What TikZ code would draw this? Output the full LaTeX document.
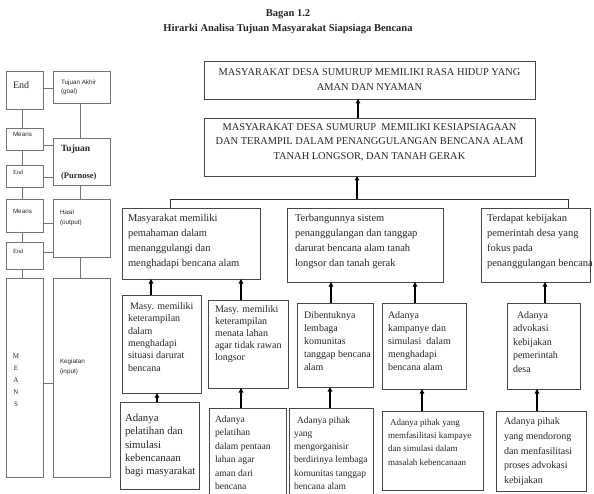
\documentclass[tikz,border=0pt]{standalone}
\usepackage{fontspec}
\setmainfont{Liberation Serif}
\newfontfamily\sansf{Liberation Sans}
\usetikzlibrary{arrows.meta}
\newcommand\fsz[2]{\fontsize{#1}{#2}\selectfont}
% \mkbox[style]{x1}{y1}{x2}{y2}{name}
\newcommand\mkbox[6][]{\node[boxst,#1,minimum width={(#4-#2)*1pt},minimum height={(#5-#3)*1pt}] (#6) at ({(#2+#4)/2},{(#3+#5)/2}) {};}
\tikzset{
  boxst/.style={draw=black!72, line width=0.9pt, inner sep=0pt, outer sep=0pt},
  lbox/.style={draw=black!55, line width=0.8pt},
  txt/.style={anchor=base west, inner sep=0pt, outer sep=0pt, align=left, text=black!85},
  ctxt/.style={anchor=base, inner sep=0pt, outer sep=0pt, align=center, text=black!85},
  conn/.style={draw=black!55, line width=0.8pt},
  bus/.style={draw=black!80, line width=0.9pt},
  arr/.style={draw=black, line width=1.5pt, -{Triangle[length=4.5pt,width=4.5pt]}},
}
\begin{document}
\begin{tikzpicture}[x=1pt,y=-1pt]
\useasboundingbox (0,0) rectangle (594,494);

% title
\node[ctxt, font=\bfseries\fsz{10.5}{12}] (title1) at (288,16.5) {Bagan 1.2};
\node[ctxt, font=\bfseries\fsz{10.5}{12}] (title2) at (288,31.5) {Hirarki Analisa Tujuan Masyarakat Siapsiaga Bencana};

% ---------- left column ----------
\mkbox[lbox]{6}{71}{43}{109}{End1}
\mkbox[lbox]{53}{71}{110}{103}{TA}
\mkbox[lbox]{6}{128}{43}{150}{Means1}
\mkbox[lbox]{53}{138}{110}{185}{Tuj}
\mkbox[lbox]{6}{165}{43}{187}{End2}
\mkbox[lbox]{6}{199}{43}{232}{Means2}
\mkbox[lbox]{53}{199}{110}{257}{Hasil}
\mkbox[lbox]{6}{242}{43}{269}{End3}
\mkbox[lbox]{6}{278}{43}{477}{MEANS}
\mkbox[lbox]{53}{278}{110}{477}{Keg}

% (multi-line nodes: base = baseline of the LAST line)
\node[txt, font=\fsz{10}{12}] (End1t) at (13,89) {End};
\node[txt, font=\sansf\fsz{6.3}{9}] (TAt) at (61,94) {Tujuan Akhir\\(goal)};
\node[txt, font=\sansf\fsz{6.3}{9}] (Means1t) at (13,137) {Means};
\node[txt, font=\bfseries\fsz{9.5}{11}] (Tujt) at (61,152) {Tujuan};
\node[txt, font=\bfseries\fsz{8.5}{10}] (Purt) at (61,179) {(Purnose)};
\node[txt, font=\fsz{6.3}{8}] (End2t) at (13,175) {End};
\node[txt, font=\sansf\fsz{6.3}{9}] (Means2t) at (13,214) {Means};
\node[txt, font=\sansf\fsz{6.3}{9.5}] (Hasilt) at (60,224.5) {Hasil\\(output)};
\node[txt, font=\fsz{6.3}{8}] (End3t) at (13,254) {End};
\node[ctxt, font=\fsz{7}{12}] (MEANSt) at (16,406) {M\\E\\A\\N\\S};
\node[txt, font=\sansf\fsz{6.3}{10}] (Kegt) at (60,373) {Kegiatan\\(input)};

% horizontal connectors
\draw[conn] ([yshift=-17pt]End1.north east) coordinate (t) -- (t -| TA.west);
\draw[conn] ([yshift=-17pt]Means1.north east) coordinate (t) -- (t -| Tuj.west);
\draw[conn] ([yshift=-12pt]End2.north east) coordinate (t) -- (t -| Tuj.west);
\draw[conn] ([yshift=-24pt]Means2.north east) coordinate (t) -- (t -| Hasil.west);
\draw[conn] ([yshift=-10pt]End3.north east) coordinate (t) -- (t -| Hasil.west);
\draw[conn] ([yshift=-105pt]MEANS.north east) coordinate (t) -- (t -| Keg.west);
% vertical connectors
\draw[conn] ([xshift=16pt]End1.south west) coordinate (t) -- (t |- Means1.north);
\draw[conn] ([xshift=16pt]Means1.south west) coordinate (t) -- (t |- End2.north);
\draw[conn] ([xshift=16pt]End2.south west) coordinate (t) -- (t |- Means2.north);
\draw[conn] ([xshift=16pt]Means2.south west) coordinate (t) -- (t |- End3.north);
\draw[conn] ([xshift=16pt]End3.south west) coordinate (t) -- (t |- MEANS.north);
\draw[conn] ([xshift=27pt]TA.south west) coordinate (t) -- (t |- Tuj.north);
\draw[conn] ([xshift=27pt]Tuj.south west) coordinate (t) -- (t |- Hasil.north);
\draw[conn] ([xshift=27pt]Hasil.south west) coordinate (t) -- (t |- Keg.north);

% ---------- top boxes ----------
\mkbox{204}{61}{535}{99}{T1}
\mkbox{204}{118}{535}{176}{T2}
\node[ctxt, font=\fsz{10.4}{15}] (T1t) at (369.5,90.5) {MASYARAKAT DESA SUMURUP MEMILIKI RASA HIDUP YANG\\AMAN DAN NYAMAN};
\node[ctxt, font=\fsz{10.4}{14.5}] (T2t) at (369.5,159.5) {MASYARAKAT DESA SUMURUP\ \ MEMILIKI KESIAPSIAGAAN\\DAN TERAMPIL DALAM PENANGGULANGAN BENCANA ALAM\\TANAH LONGSOR, DAN TANAH GERAK};
\draw[arr] ([xshift=154pt]T2.north west) coordinate (t) -- (t |- T1.south);

% ---------- middle row ----------
\mkbox{122}{208}{260}{279}{A}
\mkbox{287}{208}{443}{282}{B}
\mkbox{481}{208}{590}{282}{C}
\node[txt, font=\fsz{10.5}{15}] (At) at (128,267) {Masyarakat memiliki\\pemahaman dalam\\menanggulangi dan\\menghadapi bencana alam};
\node[txt, font=\fsz{10.5}{15}] (Bt) at (295,267) {Terbangunnya sistem\\penanggulangan dan tanggap\\darurat bencana alam tanah\\longsor dan tanah gerak};
\node[txt, font=\fsz{10.5}{15}] (Ct) at (487,267) {Terdapat kebijakan\\pemerintah desa yang\\fokus pada\\penanggulangan bencana};

\coordinate (busL) at (170,199);
\coordinate (busR) at (568,199);
\coordinate (busM) at (357,199);
\draw[bus] (busL |- A.north) -- (busL) -- (busR) -- (busR |- C.north);
\draw[arr] (busM) -- (busM |- T2.south);

% ---------- third row ----------
\mkbox{122}{295}{201}{393}{A1}
\mkbox{208}{300}{288}{388}{A2}
\mkbox{297}{303}{373}{387}{B1}
\mkbox{382}{303}{466}{389}{B2}
\mkbox{507}{303}{580}{389}{C1}
\node[txt, font=\fsz{10}{12.3}] (A1t) at (128,371) {\hspace{2pt}Masy. memiliki\\keterampilan\\dalam\\menghadapi\\situasi darurat\\bencana};
\node[txt, font=\fsz{10}{12}] (A2t) at (215,360) {Masy. memiliki\\keterampilan\\menata lahan\\agar tidak rawan\\longsor};
\node[txt, font=\fsz{10}{13}] (B1t) at (304,370) {Dibentuknya\\lembaga\\komunitas\\tanggap bencana\\alam};
\node[txt, font=\fsz{10}{13}] (B2t) at (388,370) {Adanya\\kampanye dan\\simulasi\ \ dalam\\menghadapi\\bencana alam};
\node[txt, font=\fsz{10}{13.5}] (C1t) at (513,372) {\hspace{4pt}Adanya\\advokasi\\kebijakan\\pemerintah\\desa};
\draw[arr] ([xshift=29pt]A1.north west) coordinate (t) -- (t |- A.south);
\draw[arr] ([xshift=33pt]A2.north west) coordinate (t) -- (t |- A.south);
\draw[arr] ([xshift=34pt]B1.north west) coordinate (t) -- (t |- B.south);
\draw[arr] ([xshift=33pt]B2.north west) coordinate (t) -- (t |- B.south);
\draw[arr] ([xshift=38pt]C1.north west) coordinate (t) -- (t |- C.south);

% ---------- fourth row ----------
\mkbox{120}{402}{199}{489}{A1b}
\mkbox{209}{408}{286}{500}{A2b}
\mkbox{289}{408}{373}{500}{B1b}
\mkbox{382}{411}{483}{490}{B2b}
\mkbox{496}{411}{586}{491}{C1b}
\node[txt, font=\fsz{10.8}{13.3}] (A1bt) at (125,474.7) {Adanya\\pelatihan dan\\simulasi\\kebencanaan\\bagi masyarakat};
\node[txt, font=\fsz{9.6}{13.5}] (A2bt) at (215,489.5) {Adanya\\pelatihan\\dalam pentaan\\lahan agar\\aman dari\\bencana};
\node[txt, font=\fsz{9.5}{13.3}] (B1bt) at (294,489.5) {\hspace{3pt}Adanya pihak\\yang\\mengorganisir\\berdirinya lembaga\\komunitas tanggap\\bencana alam};
\node[txt, font=\fsz{9}{13.3}] (B2bt) at (388,465) {\hspace{2pt}Adanya pihak yang\\memfasilitasi kampaye\\dan simulasi dalam\\masalah kebencanaan};
\node[txt, font=\fsz{10}{14.8}] (C1bt) at (504,483.7) {Adanya pihak\\yang mendorong\\dan menfasilitasi\\proses advokasi\\kebijakan};
\draw[arr] ([xshift=37pt]A1b.north west) coordinate (t) -- (t |- A1.south);
\draw[arr] ([xshift=32pt]A2b.north west) coordinate (t) -- (t |- A2.south);
\draw[arr] ([xshift=41pt]B1b.north west) coordinate (t) -- (t |- B1.south);
\draw[arr] ([xshift=40pt]B2b.north west) coordinate (t) -- (t |- B2.south);
\draw[arr] ([xshift=41pt]C1b.north west) coordinate (t) -- (t |- C1.south);
\end{tikzpicture}
\end{document}
